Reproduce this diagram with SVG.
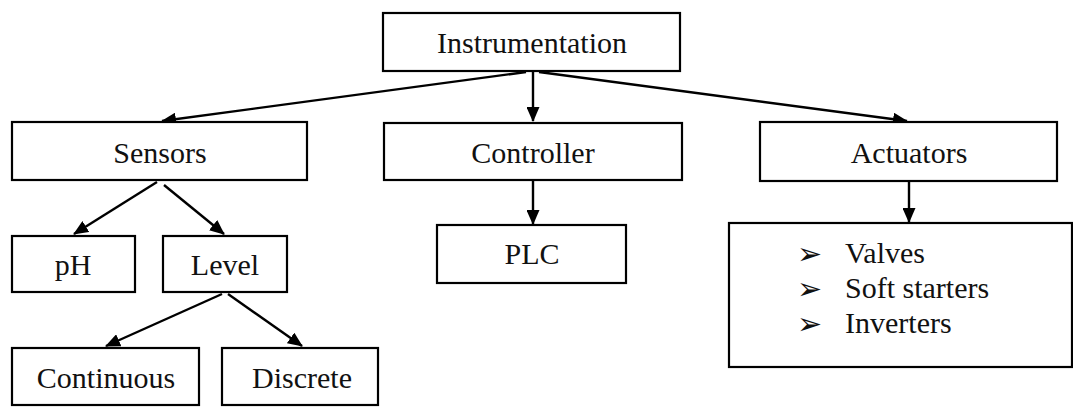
<svg xmlns="http://www.w3.org/2000/svg" width="1073" height="408" viewBox="0 0 1073 408">
<style>
.box{fill:#fff;stroke:#000;stroke-width:2.2}
.t{font-size:30px;fill:#111;text-anchor:middle}
.l{font-size:30px;fill:#111}
.b{font-size:30px;fill:#111}
.c{stroke:#000;stroke-width:2.4;fill:none;marker-end:url(#ah)}
</style>
<defs>
<marker id="ah" markerUnits="userSpaceOnUse" markerWidth="15" markerHeight="13" refX="14" refY="6.5" orient="auto">
<path d="M0,0 L15,6.5 L0,13 Z" fill="#000"/>
</marker>
</defs>
<g id="connectors">
<line class="c" x1="526" y1="72" x2="162" y2="121"/>
<line class="c" x1="533" y1="72" x2="533" y2="121"/>
<line class="c" x1="539" y1="72" x2="907" y2="121"/>
<line class="c" x1="157" y1="182" x2="74" y2="234"/>
<line class="c" x1="164" y1="185" x2="224" y2="234"/>
<line class="c" x1="222" y1="294" x2="106" y2="346"/>
<line class="c" x1="228" y1="294" x2="302" y2="346"/>
<line class="c" x1="533" y1="181" x2="533" y2="224"/>
<line class="c" x1="909" y1="181" x2="909" y2="222"/>
</g>
<g font-family="Liberation Serif, Times New Roman, DejaVu Serif, serif">
<g id="instrumentation"><rect class="box" x="383" y="13" width="297" height="58"/><text class="t" x="532" y="53">Instrumentation</text></g>
<g id="sensors"><rect class="box" x="12" y="122" width="295" height="58"/><text class="t" x="160" y="163">Sensors</text></g>
<g id="controller"><rect class="box" x="384" y="123" width="298" height="57"/><text class="t" x="533" y="163">Controller</text></g>
<g id="actuators"><rect class="box" x="760" y="122" width="297" height="59"/><text class="t" x="909" y="163">Actuators</text></g>
<g id="ph"><rect class="box" x="12" y="236" width="123" height="56"/><text class="t" x="73" y="275">pH</text></g>
<g id="level"><rect class="box" x="163" y="236" width="124" height="56"/><text class="t" x="225" y="275">Level</text></g>
<g id="plc"><rect class="box" x="437" y="225" width="189" height="58"/><text class="t" x="532" y="264">PLC</text></g>
<g id="continuous"><rect class="box" x="12" y="348" width="187" height="57"/><text class="t" x="106" y="388">Continuous</text></g>
<g id="discrete"><rect class="box" x="222" y="348" width="156" height="57"/><text class="t" x="302" y="388">Discrete</text></g>
<g id="actuator-list"><rect class="box" x="729" y="223" width="343" height="144"/>
<text class="b" font-family="DejaVu Sans, sans-serif" x="797" y="264">➢</text><text class="l" x="845" y="263">Valves</text>
<text class="b" font-family="DejaVu Sans, sans-serif" x="797" y="299">➢</text><text class="l" x="845" y="298">Soft starters</text>
<text class="b" font-family="DejaVu Sans, sans-serif" x="797" y="334">➢</text><text class="l" x="845" y="333">Inverters</text>
</g>
</g>
</svg>
